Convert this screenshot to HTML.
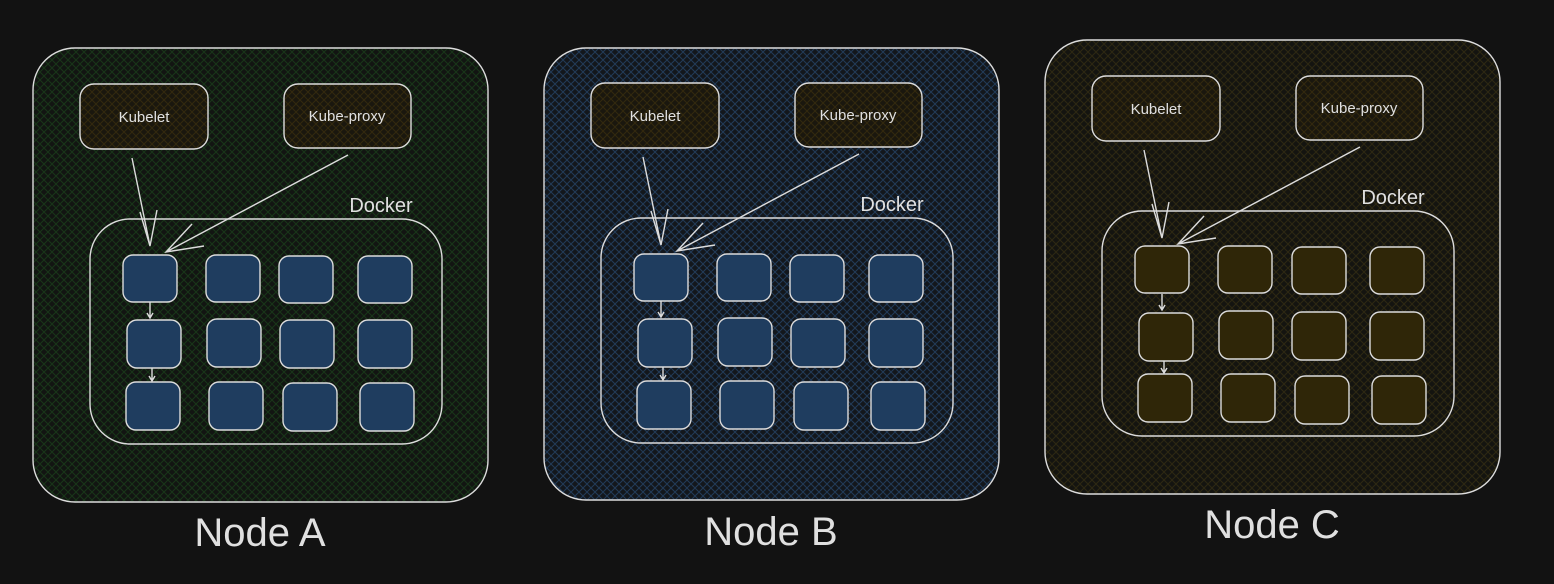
<!DOCTYPE html>
<html><head><meta charset="utf-8"><style>
html,body{margin:0;padding:0;background:#121212;}
svg{display:block}
text{font-family:"Comic Sans MS","Liberation Sans",sans-serif;fill:#e0e0e0}
</style></head><body>
<svg width="1554" height="584" viewBox="0 0 1554 584" xmlns="http://www.w3.org/2000/svg">
<defs>
<pattern id="hg" width="8" height="8" patternUnits="userSpaceOnUse">
<rect width="8" height="8" fill="#121512"/>
<path d="M0 0L8 8M8 0L0 8" stroke="#183618" stroke-width="1"/></pattern>
<pattern id="hb" width="8" height="8" patternUnits="userSpaceOnUse">
<rect width="8" height="8" fill="#13171c"/>
<path d="M0 0L8 8M8 0L0 8" stroke="#223b58" stroke-width="1"/></pattern>
<pattern id="hy" width="8" height="8" patternUnits="userSpaceOnUse">
<rect width="8" height="8" fill="#141410"/>
<path d="M0 0L8 8M8 0L0 8" stroke="#2e2812" stroke-width="1"/></pattern>
<pattern id="hk" width="8" height="8" patternUnits="userSpaceOnUse">
<rect width="8" height="8" fill="#1a170e"/>
<path d="M0 0L8 8M8 0L0 8" stroke="#33290e" stroke-width="1"/></pattern>
<g id="inner" fill="none" stroke="#dcdcdc" stroke-width="1.4">
<rect x="80" y="84" width="128" height="65" rx="14" fill="url(#hk)"/>
<rect x="284" y="84" width="127" height="64" rx="14" fill="url(#hk)"/>
<rect x="90" y="219" width="352" height="225" rx="40"/>
<path d="M132 158L150 246M140 212L150 246L157 210"/>
<path d="M348 155L166 252M192 224L166 252L204 246"/>
<path d="M150 302L150 318M147 313L150 318L153 313"/>
<path d="M152 368L152 381M149 376L152 381L155 376"/>
</g>
<g id="labels">
<text x="144" y="122" font-size="15" text-anchor="middle">Kubelet</text>
<text x="347" y="121" font-size="15" text-anchor="middle">Kube-proxy</text>
<text x="381" y="212" font-size="20" text-anchor="middle">Docker</text>
</g>
</defs>

<rect x="33" y="48" width="455" height="454" rx="42" fill="url(#hg)" stroke="#dcdcdc" stroke-width="1.4"/>
<use href="#inner"/><use href="#labels"/>
<g fill="#1f3d5f" stroke="#dcdcdc" stroke-width="1.4">
<rect x="123" y="255" width="54" height="47" rx="10"/><rect x="206" y="255" width="54" height="47" rx="10"/><rect x="279" y="256" width="54" height="47" rx="10"/><rect x="358" y="256" width="54" height="47" rx="10"/>
<rect x="127" y="320" width="54" height="48" rx="10"/><rect x="207" y="319" width="54" height="48" rx="10"/><rect x="280" y="320" width="54" height="48" rx="10"/><rect x="358" y="320" width="54" height="48" rx="10"/>
<rect x="126" y="382" width="54" height="48" rx="10"/><rect x="209" y="382" width="54" height="48" rx="10"/><rect x="283" y="383" width="54" height="48" rx="10"/><rect x="360" y="383" width="54" height="48" rx="10"/>
</g>
<text x="260" y="546" font-size="40" text-anchor="middle">Node A</text>

<g transform="translate(511,0)">
<rect x="33" y="48" width="455" height="452" rx="42" fill="url(#hb)" stroke="#dcdcdc" stroke-width="1.4"/>
<use href="#inner" y="-1"/><use href="#labels" y="-1"/>
<g fill="#1f3d5f" stroke="#dcdcdc" stroke-width="1.4">
<rect x="123" y="254" width="54" height="47" rx="10"/><rect x="206" y="254" width="54" height="47" rx="10"/><rect x="279" y="255" width="54" height="47" rx="10"/><rect x="358" y="255" width="54" height="47" rx="10"/>
<rect x="127" y="319" width="54" height="48" rx="10"/><rect x="207" y="318" width="54" height="48" rx="10"/><rect x="280" y="319" width="54" height="48" rx="10"/><rect x="358" y="319" width="54" height="48" rx="10"/>
<rect x="126" y="381" width="54" height="48" rx="10"/><rect x="209" y="381" width="54" height="48" rx="10"/><rect x="283" y="382" width="54" height="48" rx="10"/><rect x="360" y="382" width="54" height="48" rx="10"/>
</g>
<text x="260" y="545" font-size="40" text-anchor="middle">Node B</text>
</g>

<g transform="translate(1012,-8)">
<rect x="33" y="48" width="455" height="454" rx="42" fill="url(#hy)" stroke="#dcdcdc" stroke-width="1.4"/>
<use href="#inner"/><use href="#labels"/>
<g fill="#2f2608" stroke="#dcdcdc" stroke-width="1.4">
<rect x="123" y="254" width="54" height="47" rx="10"/><rect x="206" y="254" width="54" height="47" rx="10"/><rect x="280" y="255" width="54" height="47" rx="10"/><rect x="358" y="255" width="54" height="47" rx="10"/>
<rect x="127" y="321" width="54" height="48" rx="10"/><rect x="207" y="319" width="54" height="48" rx="10"/><rect x="280" y="320" width="54" height="48" rx="10"/><rect x="358" y="320" width="54" height="48" rx="10"/>
<rect x="126" y="382" width="54" height="48" rx="10"/><rect x="209" y="382" width="54" height="48" rx="10"/><rect x="283" y="384" width="54" height="48" rx="10"/><rect x="360" y="384" width="54" height="48" rx="10"/>
</g>
<text x="260" y="546" font-size="40" text-anchor="middle">Node C</text>
</g>
</svg>
</body></html>
